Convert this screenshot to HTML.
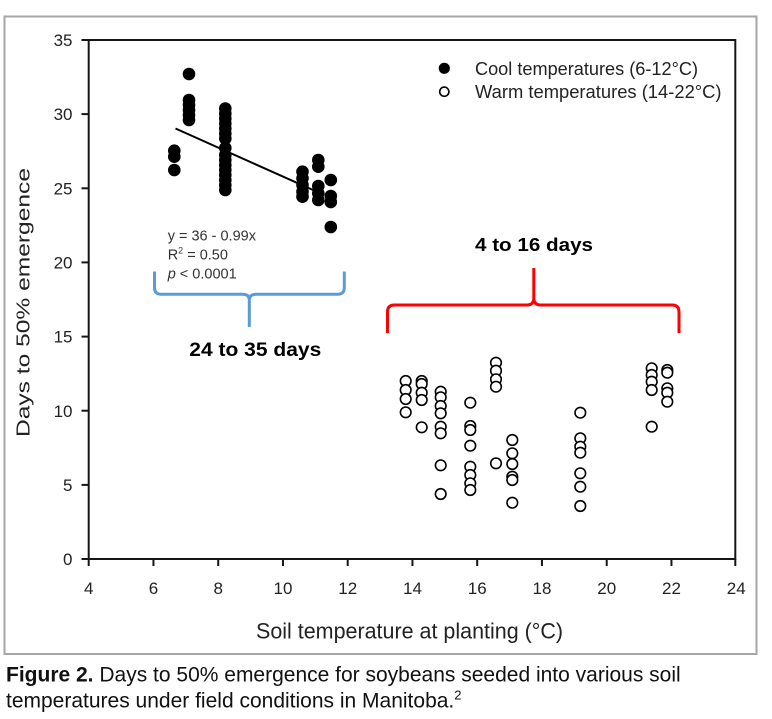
<!DOCTYPE html>
<html>
<head>
<meta charset="utf-8">
<style>
html,body{margin:0;padding:0;background:#fff;}
svg{display:block;}
text{font-family:"Liberation Sans",Arial,sans-serif;}
</style>
</head>
<body>
<svg width="772" height="719" viewBox="0 0 772 719" xmlns="http://www.w3.org/2000/svg">
<rect x="0" y="0" width="772" height="719" fill="#fff"/>
<!-- outer frame -->
<rect x="4.5" y="16.5" width="752" height="637.5" fill="none" stroke="#a6a6a6" stroke-width="2"/>
<!-- plot frame -->
<rect x="88.7" y="40" width="646.6" height="519" fill="none" stroke="#151515" stroke-width="2"/>

<!-- y ticks -->
<g stroke="#151515" stroke-width="2">
<line x1="81.5" y1="559" x2="88.7" y2="559"/>
<line x1="81.5" y1="484.9" x2="88.7" y2="484.9"/>
<line x1="81.5" y1="410.7" x2="88.7" y2="410.7"/>
<line x1="81.5" y1="336.6" x2="88.7" y2="336.6"/>
<line x1="81.5" y1="262.4" x2="88.7" y2="262.4"/>
<line x1="81.5" y1="188.3" x2="88.7" y2="188.3"/>
<line x1="81.5" y1="114.1" x2="88.7" y2="114.1"/>
<line x1="81.5" y1="40" x2="88.7" y2="40"/>
</g>
<!-- x ticks -->
<g stroke="#151515" stroke-width="2">
<line x1="88.7" y1="559" x2="88.7" y2="566"/>
<line x1="153.45" y1="559" x2="153.45" y2="566"/>
<line x1="218.2" y1="559" x2="218.2" y2="566"/>
<line x1="282.95" y1="559" x2="282.95" y2="566"/>
<line x1="347.7" y1="559" x2="347.7" y2="566"/>
<line x1="412.45" y1="559" x2="412.45" y2="566"/>
<line x1="477.2" y1="559" x2="477.2" y2="566"/>
<line x1="541.95" y1="559" x2="541.95" y2="566"/>
<line x1="606.7" y1="559" x2="606.7" y2="566"/>
<line x1="671.45" y1="559" x2="671.45" y2="566"/>
<line x1="735.3" y1="559" x2="735.3" y2="566"/>
</g>

<!-- y tick labels -->
<g font-size="17" fill="#222" text-anchor="end">
<text x="72.5" y="565">0</text>
<text x="72.5" y="491">5</text>
<text x="72.5" y="416.8">10</text>
<text x="72.5" y="342.7">15</text>
<text x="72.5" y="268.5">20</text>
<text x="72.5" y="194.4">25</text>
<text x="72.5" y="120.2">30</text>
<text x="72.5" y="46.1">35</text>
</g>
<!-- x tick labels -->
<g font-size="17" fill="#222" text-anchor="middle">
<text x="88.7" y="594">4</text>
<text x="153.45" y="594">6</text>
<text x="218.2" y="594">8</text>
<text x="282.95" y="594">10</text>
<text x="347.7" y="594">12</text>
<text x="412.45" y="594">14</text>
<text x="477.2" y="594">16</text>
<text x="541.95" y="594">18</text>
<text x="606.7" y="594">20</text>
<text x="671.45" y="594">22</text>
<text x="736.2" y="594">24</text>
</g>

<!-- axis titles -->
<text x="256" y="638.5" font-size="22" fill="#222" textLength="307" lengthAdjust="spacingAndGlyphs">Soil temperature at planting (°C)</text>
<text transform="translate(29.6,302.5) rotate(-90)" x="0" y="0" font-size="18" fill="#222" text-anchor="middle" textLength="269" lengthAdjust="spacingAndGlyphs">Days to 50% emergence</text>

<!-- cool points -->
<g fill="#000">
<circle cx="174.3" cy="150.7" r="6.3"/>
<circle cx="174.3" cy="156.7" r="6.3"/>
<circle cx="174.3" cy="170" r="6.3"/>

<circle cx="189" cy="74" r="6.3"/>
<circle cx="189" cy="100" r="6.3"/>
<circle cx="189" cy="105" r="6.3"/>
<circle cx="189" cy="110" r="6.3"/>
<circle cx="189" cy="115" r="6.3"/>
<circle cx="189" cy="120" r="6.3"/>

<circle cx="225.3" cy="108.5" r="6.3"/>
<circle cx="225.3" cy="113.5" r="6.3"/>
<circle cx="225.3" cy="118.5" r="6.3"/>
<circle cx="225.3" cy="123.5" r="6.3"/>
<circle cx="225.3" cy="128.5" r="6.3"/>
<circle cx="225.3" cy="133.5" r="6.3"/>
<circle cx="225.3" cy="138.5" r="6.3"/>
<circle cx="225.3" cy="148" r="6.3"/>
<circle cx="225.3" cy="155" r="6.3"/>
<circle cx="225.3" cy="160" r="6.3"/>
<circle cx="225.3" cy="165" r="6.3"/>
<circle cx="225.3" cy="170" r="6.3"/>
<circle cx="225.3" cy="175" r="6.3"/>
<circle cx="225.3" cy="180" r="6.3"/>
<circle cx="225.3" cy="185" r="6.3"/>
<circle cx="225.3" cy="190" r="6.3"/>

<circle cx="302.5" cy="171.7" r="6.3"/>
<circle cx="302.5" cy="178.3" r="6.3"/>
<circle cx="302.5" cy="185" r="6.3"/>
<circle cx="302.5" cy="191.7" r="6.3"/>
<circle cx="302.5" cy="196.7" r="6.3"/>

<circle cx="318.3" cy="160" r="6.3"/>
<circle cx="318.3" cy="166.7" r="6.3"/>
<circle cx="318.3" cy="186" r="6.3"/>
<circle cx="318.3" cy="193.3" r="6.3"/>
<circle cx="318.3" cy="200" r="6.3"/>

<circle cx="330.8" cy="180" r="6.3"/>
<circle cx="330.8" cy="196" r="6.3"/>
<circle cx="330.8" cy="202" r="6.3"/>
<circle cx="330.8" cy="227" r="6.3"/>
</g>
<!-- regression line -->
<line x1="175.5" y1="128.5" x2="322" y2="194" stroke="#000" stroke-width="2"/>

<!-- warm points -->
<g fill="#fff" stroke="#000" stroke-width="1.6">
<circle cx="405.7" cy="381" r="5.3"/>
<circle cx="405.7" cy="390" r="5.3"/>
<circle cx="405.7" cy="399" r="5.3"/>
<circle cx="405.7" cy="412.3" r="5.3"/>

<circle cx="421.7" cy="381" r="5.3"/>
<circle cx="421.7" cy="384" r="5.3"/>
<circle cx="421.7" cy="392.7" r="5.3"/>
<circle cx="421.7" cy="400" r="5.3"/>
<circle cx="421.7" cy="427.3" r="5.3"/>

<circle cx="440.7" cy="391.7" r="5.3"/>
<circle cx="440.7" cy="397.3" r="5.3"/>
<circle cx="440.7" cy="406" r="5.3"/>
<circle cx="440.7" cy="413.3" r="5.3"/>
<circle cx="440.7" cy="426.7" r="5.3"/>
<circle cx="440.7" cy="433.3" r="5.3"/>
<circle cx="440.7" cy="465.3" r="5.3"/>
<circle cx="440.7" cy="494" r="5.3"/>

<circle cx="470.3" cy="402.7" r="5.3"/>
<circle cx="470.3" cy="426" r="5.3"/>
<circle cx="470.3" cy="430" r="5.3"/>
<circle cx="470.3" cy="445.7" r="5.3"/>
<circle cx="470.3" cy="466.7" r="5.3"/>
<circle cx="470.3" cy="475" r="5.3"/>
<circle cx="470.3" cy="483.3" r="5.3"/>
<circle cx="470.3" cy="490" r="5.3"/>

<circle cx="496" cy="362.7" r="5.3"/>
<circle cx="496" cy="370.7" r="5.3"/>
<circle cx="496" cy="379.3" r="5.3"/>
<circle cx="496" cy="386.7" r="5.3"/>
<circle cx="496" cy="463.3" r="5.3"/>

<circle cx="512.3" cy="440" r="5.3"/>
<circle cx="512.3" cy="453.3" r="5.3"/>
<circle cx="512.3" cy="464" r="5.3"/>
<circle cx="512.3" cy="476.7" r="5.3"/>
<circle cx="512.3" cy="480" r="5.3"/>
<circle cx="512.3" cy="502.7" r="5.3"/>

<circle cx="580.3" cy="412.7" r="5.3"/>
<circle cx="580.3" cy="438.3" r="5.3"/>
<circle cx="580.3" cy="446.7" r="5.3"/>
<circle cx="580.3" cy="452.7" r="5.3"/>
<circle cx="580.3" cy="473.3" r="5.3"/>
<circle cx="580.3" cy="486.7" r="5.3"/>
<circle cx="580.3" cy="506" r="5.3"/>

<circle cx="651.7" cy="368.3" r="5.3"/>
<circle cx="651.7" cy="375" r="5.3"/>
<circle cx="651.7" cy="381.7" r="5.3"/>
<circle cx="651.7" cy="390" r="5.3"/>
<circle cx="651.7" cy="426.7" r="5.3"/>

<circle cx="667.3" cy="370" r="5.3"/>
<circle cx="667.3" cy="372.7" r="5.3"/>
<circle cx="667.3" cy="388.3" r="5.3"/>
<circle cx="667.3" cy="392.7" r="5.3"/>
<circle cx="667.3" cy="401.7" r="5.3"/>
</g>

<!-- equation -->
<g font-size="14.5" fill="#333">
<text x="167.7" y="240.5">y = 36 - 0.99x</text>
<text x="167.7" y="259.3">R<tspan font-size="9" dy="-6">2</tspan><tspan dy="6"> = 0.50</tspan></text>
<text x="167.7" y="278.3"><tspan font-style="italic">p</tspan> &lt; 0.0001</text>
</g>

<!-- legend -->
<circle cx="444.3" cy="68.3" r="5.6" fill="#000"/>
<circle cx="444.3" cy="91.7" r="4.6" fill="#fff" stroke="#000" stroke-width="1.6"/>
<text x="475" y="75" font-size="18" fill="#222" textLength="223" lengthAdjust="spacingAndGlyphs">Cool temperatures (6-12°C)</text>
<text x="475" y="98" font-size="18" fill="#222" textLength="246.5" lengthAdjust="spacingAndGlyphs">Warm temperatures (14-22°C)</text>

<!-- blue brace -->
<path d="M154.5,271.5 L154.5,287.5 Q154.5,294.3 161.5,294.3 L242.5,294.3 Q249.3,294.3 249.3,300 L249.3,327 M249.3,300 Q249.3,294.3 256,294.3 L337.5,294.3 Q344.3,294.3 344.3,287.5 L344.3,271.5" fill="none" stroke="#5b9bd5" stroke-width="3"/>
<text x="189.3" y="356" font-size="19" font-weight="bold" fill="#000" textLength="132" lengthAdjust="spacingAndGlyphs">24 to 35 days</text>

<!-- red brace -->
<path d="M387.5,333 L387.5,312 Q387.5,305 394.5,305 L527,305 Q533.8,305 533.8,298 L533.8,268 M533.8,298 Q533.8,305 540.5,305 L672,305 Q679,305 679,312 L679,333" fill="none" stroke="#ff0000" stroke-width="3"/>
<text x="475" y="251" font-size="18.5" font-weight="bold" fill="#000" textLength="118" lengthAdjust="spacingAndGlyphs">4 to 16 days</text>

<!-- caption -->
<text x="6" y="681.5" font-size="21" fill="#111"><tspan font-weight="bold">Figure 2.</tspan> Days to 50% emergence for soybeans seeded into various soil</text>
<text x="6" y="707.5" font-size="21" fill="#111">temperatures under field conditions in Manitoba.<tspan font-size="13" dy="-8">2</tspan></text>
</svg>
</body>
</html>
